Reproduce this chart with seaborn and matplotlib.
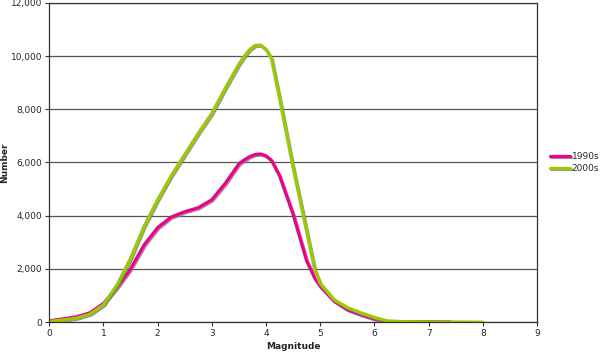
import pandas as pd
import seaborn as sns
import matplotlib.pyplot as plt
import matplotlib.patheffects as pe

# values
mag_1990s = [0, 0.25, 0.5, 0.75, 1.0, 1.25, 1.5, 1.75, 2.0, 2.25, 2.5, 2.75, 3.0, 3.25,
             3.5, 3.6, 3.7, 3.8, 3.9, 4.0, 4.1, 4.25, 4.5, 4.75, 4.9, 5.0, 5.25, 5.5, 5.75,
             6.0, 6.25, 6.5, 7.0, 7.4]
num_1990s = [50, 120, 200, 350, 700, 1300, 2000, 2900, 3550, 3950, 4150, 4300, 4600, 5220,
             5950, 6100, 6220, 6300, 6320, 6250, 6080, 5500, 4050, 2300, 1650, 1350, 800, 470, 280,
             120, 30, 20, 20, 10]

mag_2000s = [0, 0.25, 0.5, 0.75, 1.0, 1.25, 1.5, 1.75, 2.0, 2.25, 2.5, 2.75, 3.0, 3.25,
             3.5, 3.6, 3.7, 3.8, 3.9, 4.0, 4.1, 4.25, 4.5, 4.75, 4.9, 5.0, 5.25, 5.5, 5.75,
             6.0, 6.25, 6.5, 7.0, 8.0]
num_2000s = [30, 80, 150, 300, 650, 1400, 2400, 3600, 4600, 5500, 6300, 7100, 7850, 8800,
             9700, 10000, 10250, 10400, 10410, 10250, 9900, 8400, 5800, 3400, 1950, 1450, 850, 550, 350,
             180, 40, 20, 10, 0]

decades = ["1990s", "2000s"]
colors = ["#EC008C", "#99CC00"]

df = pd.concat([
    pd.DataFrame({"Magnitude": mag_1990s, "Number": num_1990s, "decade": decades[0]}),
    pd.DataFrame({"Magnitude": mag_2000s, "Number": num_2000s, "decade": decades[1]}),
])

sns.set_style("white")
plt.rcParams["font.family"] = ["DejaVu Sans"]

fig = plt.figure(figsize=(6, 3.54), dpi=100)
ax = fig.add_axes([0.082, 0.09, 0.813, 0.902])

sns.lineplot(data=df, x="Magnitude", y="Number", hue="decade", palette=colors,
             hue_order=decades, linewidth=2.3, ax=ax, sort=True)
for line in ax.get_lines():
    line.set_solid_joinstyle("round")
    line.set_path_effects([pe.SimpleLineShadow(offset=(0.8, -0.8), shadow_color="gray", alpha=0.8),
                           pe.Normal()])

ax.set_xlim(0, 9)
ax.set_ylim(0, 12000)
ax.set_xticks(range(0, 10))
ax.set_yticks(range(0, 12001, 2000))
ax.set_yticklabels([f"{v:,}" for v in range(0, 12001, 2000)])
ax.yaxis.grid(True, color="#555555", linewidth=0.9)
ax.set_axisbelow(True)
for s in ax.spines.values():
    s.set_color("#333333")
    s.set_linewidth(0.9)
ax.tick_params(axis="both", labelsize=6.5, length=3, direction="out", color="#333333",
               bottom=True, left=True, pad=2)
ax.set_xlabel("Magnitude", fontsize=6.5, fontweight="bold", labelpad=3)
ax.set_ylabel("Number", fontsize=6.5, fontweight="bold")
ax.yaxis.set_label_coords(-0.083, 0.5)

ax.legend(title=None, loc="center left", bbox_to_anchor=(1.01, 0.5), frameon=False,
          fontsize=6.5, handlelength=2.2, handletextpad=0.2, labelspacing=0.3)

fig.savefig("out.png", dpi=100)
